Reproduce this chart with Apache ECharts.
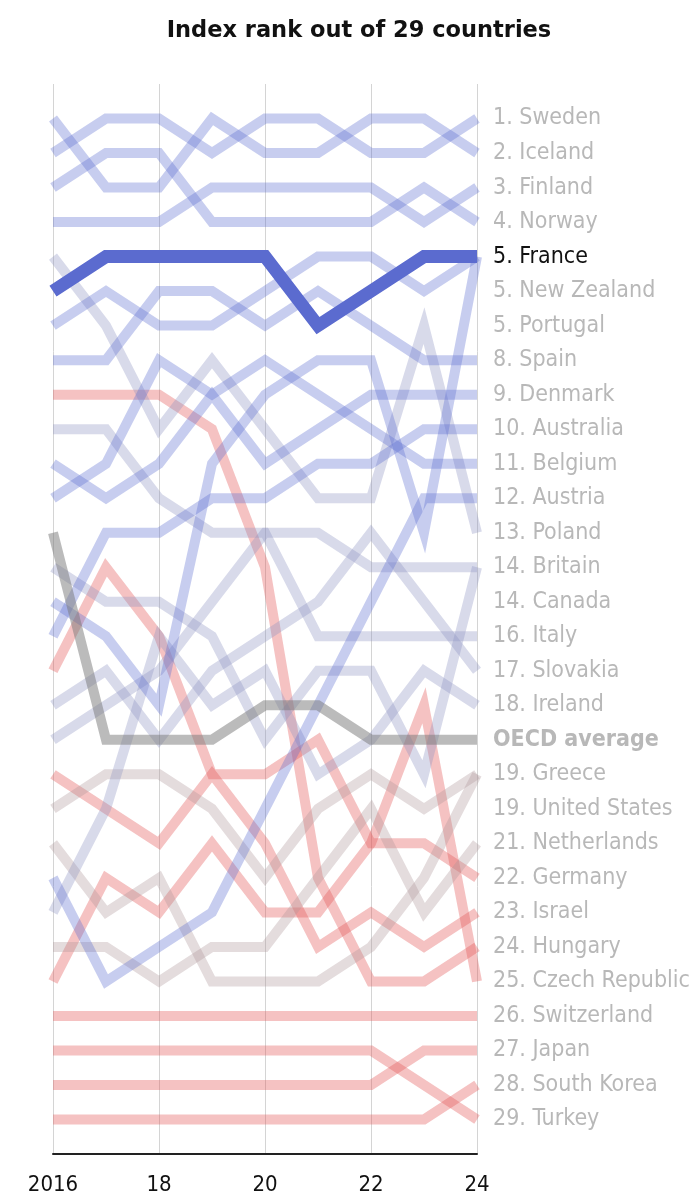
<!DOCTYPE html>
<html>
<head>
<meta charset="utf-8">
<script src="https://cdn.jsdelivr.net/npm/echarts@6/dist/echarts.min.js"></script>
<style>
  html, body { margin: 0; padding: 0; background: #fff; }
  #chart { width: 689px; height: 1200px; }
</style>
</head>
<body>
<div id="chart"></div>
<script>
// years on the x axis
const years = [2016, 2017, 2018, 2019, 2020, 2021, 2022, 2023, 2024];

// labels down the right side, one per row (OECD average sits in row 19)
const rowLabels = [
  '1. Sweden', '2. Iceland', '3. Finland', '4. Norway', '5. France',
  '5. New Zealand', '5. Portugal', '8. Spain', '9. Denmark', '10. Australia',
  '11. Belgium', '12. Austria', '13. Poland', '14. Britain', '14. Canada',
  '16. Italy', '17. Slovakia', '18. Ireland', 'OECD average', '19. Greece',
  '19. United States', '21. Netherlands', '22. Germany', '23. Israel', '24. Hungary',
  '25. Czech Republic', '26. Switzerland', '27. Japan', '28. South Korea', '29. Turkey'
];

// row position per year, 2016 -> 2024
const sweden      = [2, 1, 1, 2, 1, 1, 2, 2, 1];
const iceland     = [1, 3, 3, 1, 2, 2, 1, 1, 2];
const finland     = [4, 4, 4, 3, 3, 3, 3, 4, 3];
const norway      = [3, 2, 2, 4, 4, 4, 4, 3, 4];
const france      = [6, 5, 5, 5, 5, 7, 6, 5, 5];
const newZealand  = [7, 6, 7, 7, 6, 5, 5, 6, 5];
const portugal    = [15, 16, 18, 11, 9, 8, 8, 13, 5];
const spain       = [8, 8, 6, 6, 7, 6, 7, 8, 8];
const denmark     = [11, 12, 11, 9, 11, 10, 9, 9, 9];
const australia   = [16, 13, 13, 12, 12, 11, 11, 10, 10];
const belgium     = [12, 11, 8, 9, 8, 9, 10, 11, 11];
const austria     = [23, 26, 25, 24, 21, 18, 15, 12, 12];
const poland      = [5, 7, 10, 8, 10, 12, 12, 7, 13];
const britain     = [19, 18, 17, 15, 13, 13, 14, 14, 14];
const canada      = [14, 15, 15, 16, 19, 17, 17, 20, 14];
const italy       = [10, 10, 12, 13, 13, 16, 16, 16, 16];
const slovakia    = [18, 17, 19, 17, 16, 15, 13, 15, 17];
const ireland     = [24, 21, 16, 18, 17, 20, 19, 17, 18];
const oecdAverage = [13, 19, 19, 19, 18, 18, 19, 19, 19];
const greece      = [21, 20, 20, 21, 23, 21, 20, 21, 20];
const unitedStates = [22, 24, 23, 26, 26, 26, 25, 23, 20];
const netherlands = [25, 25, 26, 25, 25, 23, 21, 24, 22];
const germany     = [17, 14, 16, 20, 20, 19, 22, 22, 23];
const israel      = [20, 21, 22, 20, 22, 25, 24, 25, 24];
const hungary     = [9, 9, 9, 10, 14, 23, 26, 26, 25];
const czechRepublic = [26, 23, 24, 22, 24, 24, 22, 18, 26];
const switzerland = [27, 27, 27, 27, 27, 27, 27, 27, 27];
const japan       = [29, 29, 29, 29, 29, 29, 29, 28, 28];
const southKorea  = [30, 30, 30, 30, 30, 30, 30, 30, 29];
const turkey      = [28, 28, 28, 28, 28, 28, 28, 29, 30];

const BLUE = 'rgba(91,107,209,0.34)';
const LAV = 'rgba(140,146,192,0.34)';
const WARM = 'rgba(172,150,152,0.33)';
const RED = 'rgba(228,86,86,0.36)';

// drawing order: first drawn sits underneath
const lines = [
  ['Switzerland', switzerland, RED], ['Japan', japan, RED], ['South Korea', southKorea, RED],
  ['Turkey', turkey, RED], ['Czech Republic', czechRepublic, RED], ['Hungary', hungary, RED],
  ['Israel', israel, RED], ['Germany', germany, RED],
  ['Netherlands', netherlands, WARM], ['United States', unitedStates, WARM], ['Greece', greece, WARM],
  ['Ireland', ireland, LAV], ['Slovakia', slovakia, LAV], ['Italy', italy, LAV],
  ['Canada', canada, LAV], ['Britain', britain, LAV], ['Poland', poland, LAV],
  ['Austria', austria, BLUE], ['Belgium', belgium, BLUE], ['Australia', australia, BLUE],
  ['Denmark', denmark, BLUE], ['Spain', spain, BLUE], ['Portugal', portugal, BLUE],
  ['New Zealand', newZealand, BLUE], ['Norway', norway, BLUE], ['Finland', finland, BLUE],
  ['Iceland', iceland, BLUE], ['Sweden', sweden, BLUE]
];

const FONT = '"Liberation Sans Narrow", "DejaVu Sans Condensed", sans-serif';

function makeSeries(name, values, color, width) {
  return {
    name,
    type: 'line',
    data: years.map((y, i) => [y, values[i]]),
    symbol: 'none',
    silent: true,
    lineStyle: { color, width, join: 'miter' }
  };
}

const series = lines.map(l => makeSeries(l[0], l[1], l[2], 10));
series.push(makeSeries('OECD average', oecdAverage, 'rgba(120,120,120,0.5)', 10));
series.push(makeSeries('France', france, '#5b6bcf', 13));

const chart = echarts.init(document.getElementById('chart'), null, { renderer: 'canvas' });

chart.setOption({
  animation: false,
  backgroundColor: '#fff',
  graphic: [{
    type: 'text',
    x: 359,
    y: 31,
    style: {
      text: 'Index rank out of 29 countries',
      font: 'bold 22.5px "DejaVu Sans", sans-serif',
      fill: '#111',
      textAlign: 'center',
      textVerticalAlign: 'middle'
    }
  }],
  grid: {
    left: 53, right: 212, top: 84, bottom: 46,
    containLabel: false,
    outerBoundsMode: 'none'
  },
  xAxis: {
    type: 'value',
    min: 2016,
    max: 2024,
    interval: 2,
    axisLine: { onZero: false, lineStyle: { color: '#222', width: 2 } },
    axisTick: { show: false },
    splitLine: { show: true, lineStyle: { color: '#d4d4d4', width: 1 } },
    axisLabel: {
      margin: 20,
      fontFamily: FONT,
      fontSize: 22,
      color: '#111',
      formatter: v => (v === 2016 ? '2016' : String(v).slice(2))
    }
  },
  yAxis: {
    type: 'value',
    inverse: true,
    position: 'right',
    min: 0,
    max: 31,
    interval: 1,
    axisLine: { show: false },
    axisTick: { show: false },
    splitLine: { show: false },
    axisLabel: {
      margin: 16,
      align: 'left',
      formatter: v => {
        const label = rowLabels[v - 1];
        if (!label) return '';
        if (label === '5. France') return '{fr|' + label + '}';
        if (label === 'OECD average') return '{oecd|' + label + '}';
        return '{n|' + label + '}';
      },
      rich: {
        n: { fontFamily: FONT, fontSize: 23, color: '#b8b8b8' },
        fr: { fontFamily: FONT, fontSize: 23, color: '#111' },
        oecd: { fontFamily: FONT, fontSize: 23, color: '#b8b8b8', fontWeight: 'bold' }
      }
    }
  },
  series
});
</script>
</body>
</html>
